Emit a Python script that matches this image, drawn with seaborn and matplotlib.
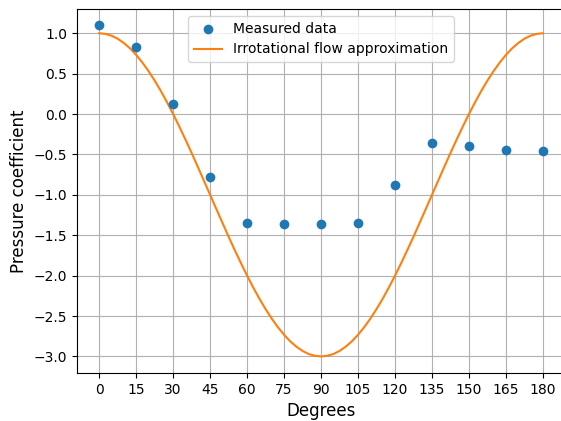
import matplotlib
matplotlib.use('Agg')
import matplotlib.pyplot as plt
import seaborn as sns
import pandas as pd

# measured pressure coefficient around the cylinder
degrees_measured = [0, 15, 30, 45, 60, 75, 90, 105, 120, 135, 150, 165, 180]
cp_measured = [1.10, 0.83, 0.13, -0.78, -1.35, -1.36, -1.36, -1.35, -0.88, -0.36, -0.39, -0.45, -0.46]

cp_theory_half = [1.000, 0.992, 0.970, 0.932, 0.879, 0.813, 0.732, 0.638,
                  0.532, 0.414, 0.286, 0.147, 0.000, -0.155, -0.316, -0.482,
                  -0.653, -0.826, -1.000, -1.174, -1.347, -1.518, -1.684,
                  -1.845, -2.000, -2.147, -2.286, -2.414, -2.532, -2.638,
                  -2.732, -2.813, -2.879, -2.932, -2.970, -2.992, -3.000]
cp_theory = cp_theory_half + cp_theory_half[-2::-1]
degrees_theory = [2.5 * i for i in range(len(cp_theory))]

x_ticks = list(range(0, 181, 15))
y_ticks = [1.0, 0.5, 0.0, -0.5, -1.0, -1.5, -2.0, -2.5, -3.0]

meas_df = pd.DataFrame({'deg': degrees_measured, 'cp': cp_measured})
theo_df = pd.DataFrame({'deg': degrees_theory, 'cp': cp_theory})

plt.rcParams['font.family'] = ['DejaVu Sans']

fig = plt.figure(figsize=(5.61, 4.21), dpi=100)
ax = fig.add_axes([0.1373, 0.114, 0.87, 0.8646])

sns.scatterplot(data=meas_df, x='deg', y='cp', ax=ax, s=49, color='#1f77b4',
                linewidth=0, label='Measured data', zorder=3)
sns.lineplot(data=theo_df, x='deg', y='cp', ax=ax, color='#ff7f0e',
             linewidth=1.5, label='Irrotational flow approximation', zorder=2)

ax.set_xticks(x_ticks)
ax.set_yticks(y_ticks)
ax.set_xlim(-9, 189)
ax.set_ylim(-3.205, 1.30)
ax.grid(True)
ax.tick_params(labelsize=10)
ax.set_xlabel('Degrees', fontsize=12)
ax.set_ylabel('Pressure coefficient', fontsize=12)
ax.legend(loc='upper center', fontsize=10)

fig.savefig('out.png', dpi=100)
